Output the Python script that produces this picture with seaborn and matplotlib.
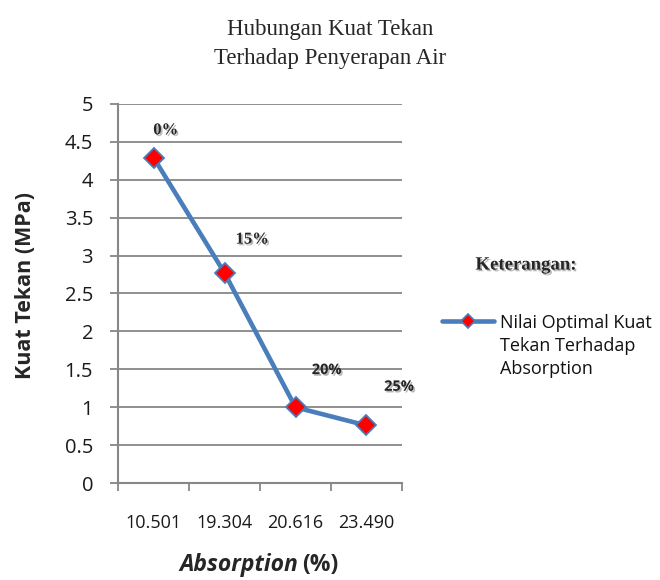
import matplotlib
matplotlib.use("Agg")
import matplotlib.pyplot as plt
import matplotlib.patheffects as pe
from matplotlib.lines import Line2D
import seaborn as sns
import pandas as pd

# data
absorption = ["10.501", "19.304", "20.616", "23.490"]
kuat_tekan = [4.29, 2.77, 1.00, 0.76]
variasi = ["0%", "15%", "20%", "25%"]

df = pd.DataFrame({"Absorption": absorption, "Kuat Tekan": kuat_tekan})

sns.set_theme(style="white")
plt.rcParams["font.family"] = ["Open Sans", "DejaVu Sans"]

line_blue = "#4a7ebb"
grid_gray = "#878787"

fig = plt.figure(figsize=(6.6, 5.8), dpi=100)
ax = fig.add_axes([0.179, 0.167, 0.43, 0.654])

sns.lineplot(data=df, x="Absorption", y="Kuat Tekan", ax=ax, color=line_blue,
             linewidth=3.3, marker="D", markersize=10.5, markerfacecolor="red",
             markeredgecolor=line_blue, markeredgewidth=1.3, sort=False, zorder=3)

ax.set_xlim(-0.5, 3.5)
ax.set_ylim(0, 5)
ax.set_yticks([i * 0.5 for i in range(11)])
ax.set_yticklabels(["0", "0.5", "1", "1.5", "2", "2.5", "3", "3.5", "4", "4.5", "5"])
ax.yaxis.grid(True, color=grid_gray, linewidth=1.3)
ax.xaxis.grid(False)
ax.set_axisbelow(True)

# category ticks without marks, boundary ticks as minor marks
ax.set_xticks(range(len(absorption)))
ax.set_xticklabels(absorption)
ax.set_xticks([i - 0.5 for i in range(len(absorption) + 1)], minor=True)
ax.tick_params(axis="x", which="major", length=0, pad=22, labelsize=13, colors="#1a1a1a")
ax.tick_params(axis="x", which="minor", length=6, width=1.3, color=grid_gray, bottom=True, direction="out")
ax.tick_params(axis="y", which="major", length=6, width=1.3, color=grid_gray, left=True,
               direction="out", labelsize=14.5, pad=12, colors="#1a1a1a")

for s in ["top", "right"]:
    ax.spines[s].set_visible(False)
for s in ["left", "bottom"]:
    ax.spines[s].set_color(grid_gray)
    ax.spines[s].set_linewidth(1.5)

ax.set_ylabel("")
ax.set_xlabel("")
fig.text(0.038, 0.508, "Kuat Tekan (MPa)", rotation=90, fontsize=15.5, fontweight="bold",
         ha="center", va="center")
fig.text(0.452, 0.026, "Absorption", fontsize=16.5, fontweight="bold", style="italic",
         ha="right", va="center")
fig.text(0.458, 0.026, "(%)", fontsize=16.5, fontweight="bold", ha="left", va="center")

# title
fig.text(0.5, 0.924, "Hubungan Kuat Tekan\nTerhadap Penyerapan Air", ha="center", va="center",
         fontsize=16.5, family="Liberation Serif", linespacing=1.45)

# point labels with shadow
shadow = [pe.SimplePatchShadow(offset=(1.2, -1.2), shadow_rgbFace="#888888", alpha=0.6), pe.Normal()]
offsets = [(0.17, 0.36), (0.39, 0.44), (0.44, 0.49), (0.46, 0.51)]
fams = ["Liberation Serif", "Liberation Serif", "Open Sans", "Open Sans"]
sizes = [12, 12, 10.5, 10.5]
for i, (lab, val) in enumerate(zip(variasi, kuat_tekan)):
    ax.text(i + offsets[i][0], val + offsets[i][1], lab, ha="center", va="center",
            fontsize=sizes[i], fontweight="bold", family=fams[i],
            path_effects=shadow, clip_on=False)

# legend, drawn by hand so the key sits beside the first line
fig.text(0.797, 0.543, "Keterangan:", ha="center", va="center", fontsize=13.5,
         fontweight="bold", family="Liberation Serif", path_effects=shadow)
fig.add_artist(Line2D([0.670, 0.749], [0.446, 0.446], color=line_blue, linewidth=3.3,
                      transform=fig.transFigure))
fig.add_artist(Line2D([0.7095], [0.446], color=line_blue, marker="D", markersize=7,
                      markerfacecolor="red", markeredgecolor=line_blue, markeredgewidth=1.2,
                      transform=fig.transFigure))
fig.text(0.757, 0.459, "Nilai Optimal Kuat\nTekan Terhadap\nAbsorption", ha="left", va="top",
         fontsize=13, linespacing=1.35, color="#111111")

fig.savefig("out.png", dpi=100)
